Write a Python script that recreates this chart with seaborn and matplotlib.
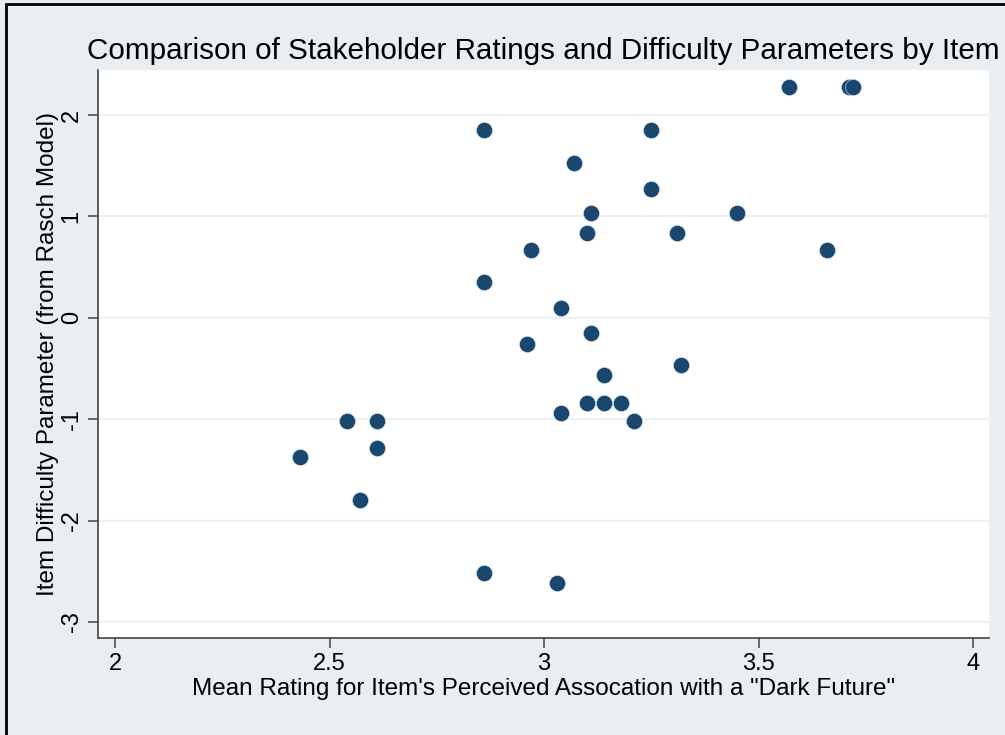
import matplotlib
matplotlib.use("Agg")
import matplotlib.pyplot as plt
import seaborn as sns
import pandas as pd

mean_rating = [3.57, 3.71, 3.72, 2.86, 3.25, 3.07, 3.25, 3.11, 3.45, 3.10, 3.31,
               2.97, 3.66, 2.86, 3.04, 3.11, 2.96, 3.14, 3.32, 3.10, 3.14, 3.18,
               3.04, 3.21, 2.54, 2.61, 2.61, 2.43, 2.57, 2.86, 3.03]
difficulty = [2.28, 2.28, 2.28, 1.85, 1.85, 1.53, 1.27, 1.03, 1.03, 0.84, 0.84,
              0.67, 0.67, 0.35, 0.10, -0.15, -0.26, -0.56, -0.47, -0.84, -0.84, -0.84,
              -0.94, -1.02, -1.02, -1.02, -1.28, -1.37, -1.80, -2.52, -2.62]
x_ticks = [2, 2.5, 3, 3.5, 4]
x_ticklabels = ["2", "2.5", "3", "3.5", "4"]
y_ticks = [-3, -2, -1, 0, 1, 2]
y_ticklabels = ["-3", "-2", "-1", "0", "1", "2"]

df = pd.DataFrame({"x": mean_rating, "y": difficulty})

sns.set_style("white")
plt.rcParams['font.family'] = ['Liberation Sans', 'DejaVu Sans']
plt.rcParams['text.color'] = 'black'
plt.rcParams['axes.labelcolor'] = 'black'

bg = "#E8EEF2"
fig = plt.figure(figsize=(10.05, 7.35), dpi=100, facecolor=bg)
ax = fig.add_axes([0.0975, 0.132, 0.8865, 0.7728])
ax.set_facecolor("white")

for yv in y_ticks:
    ax.axhline(yv, color="#EAF0F3", lw=1.6, zorder=0)

sns.scatterplot(data=df, x="x", y="y", ax=ax, s=135, color="#1A476F",
                edgecolor="#DDE6EC", linewidth=0.4, zorder=3)

ax.set_xlim(1.960, 4.037)
ax.set_ylim(-3.158, 2.444)
ax.set_xticks(x_ticks)
ax.set_xticklabels(x_ticklabels, fontsize=17)
ax.set_yticks(y_ticks)
ax.set_yticklabels(y_ticklabels, fontsize=17, rotation=90, va="center")
ax.tick_params(axis="both", direction="out", length=7, width=1.1, color="#444444",
               labelcolor="black", pad=4, left=True, bottom=True)

for s in ["top", "right"]:
    ax.spines[s].set_visible(False)
for s in ["left", "bottom"]:
    ax.spines[s].set_color("#444444")
    ax.spines[s].set_linewidth(1.2)

ax.set_xlabel("Mean Rating for Item's Perceived Assocation with a \"Dark Future\"",
              fontsize=17.5, labelpad=2)
ax.set_ylabel("Item Difficulty Parameter (from Rasch Model)", fontsize=17.5, labelpad=1)
ax.set_title("Comparison of Stakeholder Ratings and Difficulty Parameters by Item",
             fontsize=21.3, pad=8)

# outer frame (top and left edges visible)
fig.add_artist(plt.Line2D([0.006, 0.006], [0, 0.995], transform=fig.transFigure,
                          color="black", lw=2))
fig.add_artist(plt.Line2D([0.006, 1.0], [0.995, 0.995], transform=fig.transFigure,
                          color="black", lw=2))

fig.savefig("out.png", dpi=100, facecolor=bg)
